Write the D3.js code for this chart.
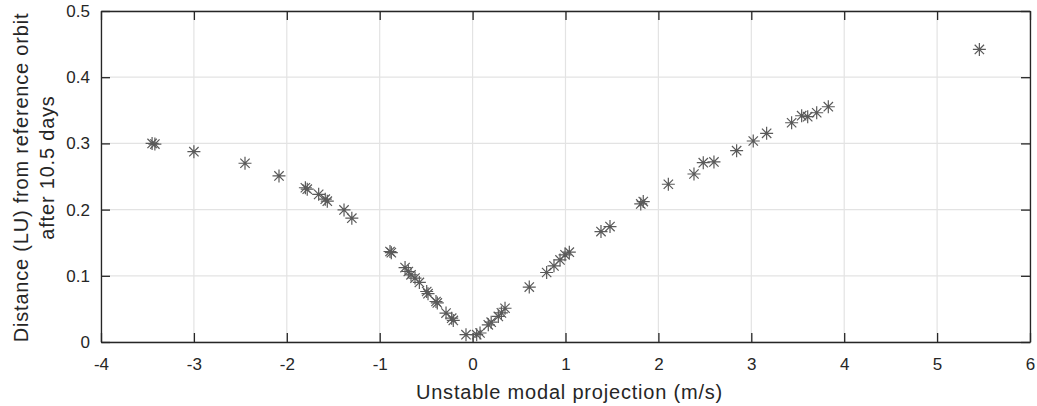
<!DOCTYPE html>
<html><head><meta charset="utf-8">
<script src="https://cdn.jsdelivr.net/npm/d3@7"></script>
<style>body{margin:0;background:#fff}svg{display:block}text{font-family:"Liberation Sans",Arial,sans-serif;fill:#262626}</style>
</head><body><svg id="c" width="1037" height="406"></svg>
<script>
const xValues = [-3.45,-3.42,-3.0,-2.45,-2.084,-1.80,-1.78,-1.657,-1.586,-1.564,-1.384,-1.30,
 -0.889,-0.875,-0.727,-0.692,-0.663,-0.620,-0.573,-0.494,-0.48,-0.394,-0.38,-0.286,-0.225,-0.208,
 -0.071,0.044,0.080,0.169,0.20,0.277,0.31,0.349,0.610,0.797,0.876,0.941,0.995,1.041,
 1.382,1.479,1.81,1.837,2.107,2.383,2.483,2.598,2.842,3.021,3.165,3.434,3.542,3.607,3.704,3.829,5.455];
const yValues = [0.300,0.299,0.2875,0.270,0.2508,0.233,0.2308,0.223,0.2157,0.2127,0.1995,0.187,
 0.1367,0.135,0.1125,0.1065,0.1015,0.0965,0.090,0.0763,0.073,0.0612,0.059,0.0437,0.036,0.0326,
 0.011,0.011,0.0136,0.026,0.030,0.0386,0.044,0.051,0.083,0.105,0.115,0.124,0.1317,0.1357,
 0.1668,0.1744,0.2086,0.2121,0.2383,0.2538,0.2709,0.272,0.289,0.3036,0.3152,0.3312,0.3418,0.3403,0.3463,0.3554,0.442];
const xTicks = [-4,-3,-2,-1,0,1,2,3,4,5,6];
const yTicks = [0,0.1,0.2,0.3,0.4,0.5];
const xLabel = "Unstable modal projection (m/s)";
const yLabel = ["Distance (LU) from reference orbit","after 10.5 days"];

const svg = d3.select("#c");
const L=101, R=1030, T=11, B=342;
const x = d3.scaleLinear().domain([-4,6]).range([L,R]);
const y = d3.scaleLinear().domain([0,0.5]).range([B,T]);

// grid
svg.append("g").selectAll("line").data(xTicks).join("line")
 .attr("x1",d=>x(d)).attr("x2",d=>x(d)).attr("y1",T).attr("y2",B)
 .attr("stroke","#e3e3e3").attr("stroke-width",1.2);
svg.append("g").selectAll("line").data(yTicks).join("line")
 .attr("y1",d=>y(d)).attr("y2",d=>y(d)).attr("x1",L).attr("x2",R)
 .attr("stroke","#e3e3e3").attr("stroke-width",1.2);

// axes
const fmt = d=>String(d);
const ax = svg.append("g").attr("transform",`translate(0,${B})`)
 .call(d3.axisBottom(x).tickValues(xTicks).tickFormat(fmt).tickSizeInner(-9).tickSizeOuter(0).tickPadding(16));
const axT = svg.append("g").attr("transform",`translate(0,${T})`)
 .call(d3.axisTop(x).tickValues(xTicks).tickFormat("").tickSizeInner(-9).tickSizeOuter(0));
const ay = svg.append("g").attr("transform",`translate(${L},0)`)
 .call(d3.axisLeft(y).tickValues(yTicks).tickFormat(fmt).tickSizeInner(-9).tickSizeOuter(0).tickPadding(11));
const ayR = svg.append("g").attr("transform",`translate(${R},0)`)
 .call(d3.axisRight(y).tickValues(yTicks).tickFormat("").tickSizeInner(-9).tickSizeOuter(0));
[ax,axT,ay,ayR].forEach(g=>{
 g.select(".domain").attr("stroke","#262626").attr("stroke-width",1.3);
 g.selectAll(".tick line").attr("stroke","#262626").attr("stroke-width",1.3);
 g.selectAll("text").attr("font-size",17).attr("fill","#262626").attr("font-family","Liberation Sans, Arial, sans-serif");
});

// markers
const pts = xValues.map((v,i)=>[v,yValues[i]]);
const r=6.5, d2=r*0.72;
svg.append("g").selectAll("path").data(pts).join("path")
 .attr("d",d=>{const cx=x(d[0]),cy=y(d[1]);
   return `M${cx-r},${cy}H${cx+r}M${cx},${cy-r}V${cy+r}M${cx-d2},${cy-d2}L${cx+d2},${cy+d2}M${cx-d2},${cy+d2}L${cx+d2},${cy-d2}`;})
 .attr("stroke","#5a5a5a").attr("stroke-width",1.2).attr("fill","none");

// labels
svg.append("text").attr("x",(L+R)/2+4).attr("y",399).attr("text-anchor","middle")
 .attr("font-size",20).attr("letter-spacing","0.8px").text(xLabel);
svg.append("text").attr("transform",`translate(27.5,177.5) rotate(-90)`).attr("text-anchor","middle")
 .attr("font-size",20).attr("letter-spacing","0.8px").text(yLabel[0]);
svg.append("text").attr("transform",`translate(54,167.5) rotate(-90)`).attr("text-anchor","middle")
 .attr("font-size",20).attr("letter-spacing","0.8px").text(yLabel[1]);
</script></body></html>
